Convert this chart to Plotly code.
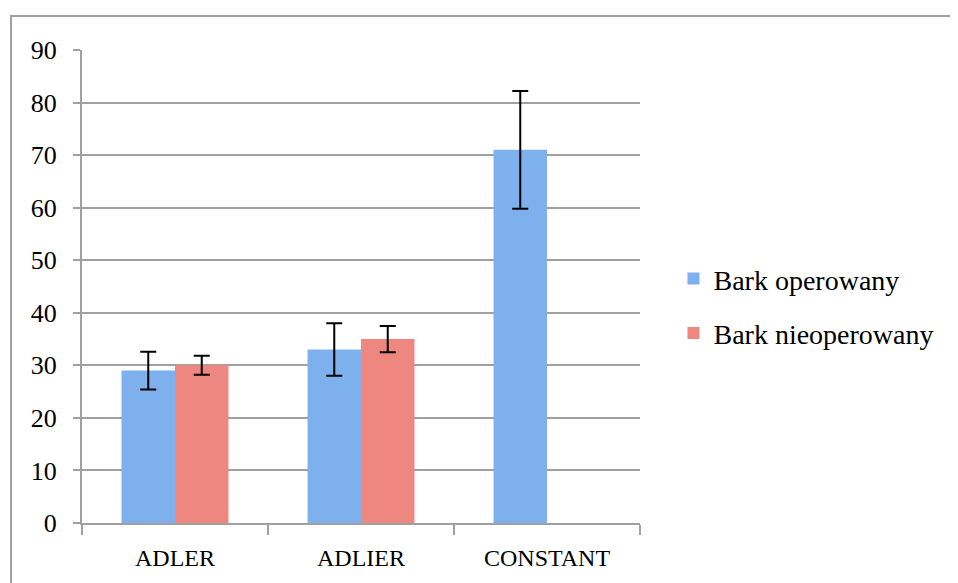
import plotly.graph_objects as go

categories = ["ADLER", "ADLIER", "CONSTANT"]
operowany = [29, 33, 71]
operowany_err = [3.6, 5.0, 11.2]
nieoperowany = [30, 35, None]
nieoperowany_err = [1.8, 2.5, None]
y_ticks = [0, 10, 20, 30, 40, 50, 60, 70, 80, 90]

FONT = "'Liberation Serif', 'DejaVu Serif', serif"

fig = go.Figure()
fig.add_trace(go.Bar(
    name="Bark operowany", x=categories, y=operowany, legendgroup="a",
    marker=dict(color="#7DB0EC", line=dict(width=0)),
    error_y=dict(type="data", array=operowany_err, color="black", thickness=2, width=8),
))
fig.add_trace(go.Bar(
    name="Bark nieoperowany", x=categories, y=nieoperowany, legendgroup="b",
    marker=dict(color="#EE8780", line=dict(width=0)),
    error_y=dict(type="data", array=nieoperowany_err, color="black", thickness=2, width=8),
))

fig.update_layout(
    width=958, height=583,
    margin=dict(l=74, r=326, t=42, b=68),
    paper_bgcolor="white", plot_bgcolor="white",
    barmode="group", bargap=0.425, bargroupgap=0,
    font=dict(family=FONT, size=24, color="black"),
    legend=dict(x=1.06, y=0.459, xanchor="left", yanchor="middle",
                font=dict(family=FONT, size=28), itemsizing="constant",
                traceorder="grouped", tracegroupgap=15, bgcolor="rgba(0,0,0,0)"),
    xaxis=dict(type="category", showline=True, linecolor="#A0A0A0", linewidth=2,
               tickson="boundaries", ticks="outside", ticklen=10, tickcolor="#A0A0A0",
               tickwidth=2, showgrid=False, ticklabelstandoff=12,
               tickfont=dict(family=FONT, size=24)),
    yaxis=dict(range=[0, 90], tickvals=y_ticks, showline=True, linecolor="#A0A0A0",
               linewidth=2, ticks="outside", ticklen=7, tickcolor="#A0A0A0", tickwidth=2,
               showgrid=True, gridcolor="#A0A0A0", gridwidth=2, zeroline=False,
               ticklabelstandoff=11, tickfont=dict(family=FONT, size=26)),
    shapes=[dict(type="rect", xref="paper", yref="paper",
                 x0=-71/558, x1=1.6, y0=-0.3, y1=1 + 34/473,
                 line=dict(color="#A0A0A0", width=2), fillcolor="rgba(0,0,0,0)", layer="below")],
)

fig.write_html("out.html")
